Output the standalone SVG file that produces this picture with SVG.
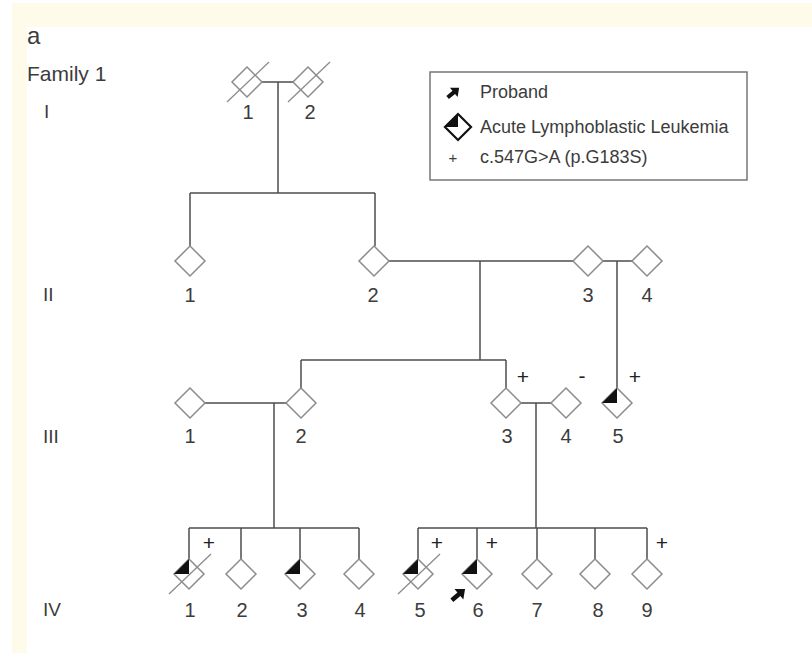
<svg xmlns="http://www.w3.org/2000/svg" xmlns:xlink="http://www.w3.org/1999/xlink" width="812" height="653" viewBox="0 0 812 653">
<style>
.dia{fill:#fff;stroke:#8c8c8c;stroke-width:1.5}
.aff{fill:#111;stroke:none}
.ln{stroke:#4d4d4d;stroke-width:1.5;fill:none}
.sl{stroke:#8c8c8c;stroke-width:1.3}
.t{font-family:"Liberation Sans",Arial,sans-serif;fill:#3c3c3c}
.lbl{font-size:20px;text-anchor:middle}
.gen{font-size:19px}
.pm{font-size:21px;text-anchor:middle;fill:#222}
.lg{font-size:18px}
</style>
<defs>
<path id="dm" class="dia" d="M0,-15 L15,0 L0,15 L-15,0 Z"/>
<path id="q" class="aff" d="M-15,0 L0,-15 L0,0 Z"/>
<line id="slash" class="sl" x1="-20" y1="20" x2="22" y2="-20"/>
<path id="arr" fill="#111" d="M-7,-2 L1,-2 L1,-6 L8,0 L1,6 L1,2 L-7,2 Z"/>
</defs>
<rect x="0" y="0" width="812" height="653" fill="#fff"/>
<rect x="12" y="3" width="800" height="24" fill="#fffbea"/>
<rect x="12" y="3" width="15" height="650" fill="#fffbea"/>

<g id="titles" class="t">
<text x="27" y="44" font-size="24">a</text>
<text x="27" y="81" font-size="21">Family 1</text>
<text class="gen" x="44" y="118">I</text>
<text class="gen" x="43" y="301">II</text>
<text class="gen" x="43" y="443">III</text>
<text class="gen" x="43" y="616">IV</text>
</g>

<g id="legend">
<rect x="430" y="72" width="317" height="108" fill="#fff" stroke="#777" stroke-width="1.5"/>
<use xlink:href="#arr" transform="translate(453,93) rotate(-40)"/>
<text class="t lg" x="480" y="98">Proband</text>
<g transform="translate(458,127) scale(0.87)">
<path d="M0,-15 L15,0 L0,15 L-15,0 Z" fill="#fff" stroke="#111" stroke-width="2.5"/>
<path d="M-15,0 L0,-15 L0,0 Z" fill="#111"/>
</g>
<text class="t lg" x="480" y="133">Acute Lymphoblastic Leukemia</text>
<text class="t" x="453" y="163" font-size="15" text-anchor="middle">+</text>
<text class="t lg" x="480" y="163">c.547G&gt;A (p.G183S)</text>
</g>

<g id="connectors" class="ln">
<path d="M262,82 H293 M278,82 V193 M190,193 H375 M190,193 V246 M375,193 V246"/>
<path d="M389,261 H573 M480,261 V360 M603,261 H632 M617,261 V388"/>
<path d="M301,360 H506 M301,360 V388 M506,360 V388"/>
<path d="M205,403 H286 M274,403 V528 M189,528 H359 M189,528 V559 M241,528 V559 M300,528 V559 M359,528 V559"/>
<path d="M521,403 H551 M536,403 V528 M418,528 H647 M418,528 V559 M477,528 V559 M537,528 V559 M595,528 V559 M647,528 V559"/>
</g>

<g id="I-1"><use xlink:href="#dm" x="247" y="82"/><use xlink:href="#slash" x="247" y="82"/><text class="t lbl" x="248" y="119">1</text></g>
<g id="I-2"><use xlink:href="#dm" x="308" y="82"/><use xlink:href="#slash" x="308" y="82"/><text class="t lbl" x="310" y="119">2</text></g>

<g id="II-1"><use xlink:href="#dm" x="190" y="261"/><text class="t lbl" x="190" y="302">1</text></g>
<g id="II-2"><use xlink:href="#dm" x="374" y="261"/><text class="t lbl" x="373" y="302">2</text></g>
<g id="II-3"><use xlink:href="#dm" x="588" y="261"/><text class="t lbl" x="588" y="302">3</text></g>
<g id="II-4"><use xlink:href="#dm" x="647" y="261"/><text class="t lbl" x="647" y="302">4</text></g>

<g id="III-1"><use xlink:href="#dm" x="190" y="403"/><text class="t lbl" x="190" y="443">1</text></g>
<g id="III-2"><use xlink:href="#dm" x="301" y="403"/><text class="t lbl" x="301" y="443">2</text></g>
<g id="III-3"><use xlink:href="#dm" x="506" y="403"/><text class="t pm" x="523" y="384">+</text><text class="t lbl" x="507" y="443">3</text></g>
<g id="III-4"><use xlink:href="#dm" x="566" y="403"/><text class="t pm" x="582" y="383">-</text><text class="t lbl" x="566" y="443">4</text></g>
<g id="III-5"><use xlink:href="#dm" x="617" y="403"/><use xlink:href="#q" x="617" y="403"/><text class="t pm" x="635" y="384">+</text><text class="t lbl" x="618" y="443">5</text></g>

<g id="IV-1"><use xlink:href="#dm" x="189" y="574"/><use xlink:href="#q" x="189" y="574"/><use xlink:href="#slash" x="189" y="574"/><text class="t pm" x="209" y="550">+</text><text class="t lbl" x="190" y="617">1</text></g>
<g id="IV-2"><use xlink:href="#dm" x="241" y="574"/><text class="t lbl" x="242" y="617">2</text></g>
<g id="IV-3"><use xlink:href="#dm" x="300" y="574"/><use xlink:href="#q" x="300" y="574"/><text class="t lbl" x="302" y="617">3</text></g>
<g id="IV-4"><use xlink:href="#dm" x="359" y="574"/><text class="t lbl" x="360" y="617">4</text></g>
<g id="IV-5"><use xlink:href="#dm" x="418" y="574"/><use xlink:href="#q" x="418" y="574"/><use xlink:href="#slash" x="418" y="574"/><text class="t pm" x="437" y="550">+</text><text class="t lbl" x="420" y="617">5</text></g>
<g id="IV-6"><use xlink:href="#dm" x="477" y="574"/><use xlink:href="#q" x="477" y="574"/><text class="t pm" x="492" y="550">+</text><use xlink:href="#arr" transform="translate(458,595) rotate(-40) scale(1.15)"/><text class="t lbl" x="478" y="617">6</text></g>
<g id="IV-7"><use xlink:href="#dm" x="537" y="574"/><text class="t lbl" x="537" y="617">7</text></g>
<g id="IV-8"><use xlink:href="#dm" x="595" y="574"/><text class="t lbl" x="598" y="617">8</text></g>
<g id="IV-9"><use xlink:href="#dm" x="647" y="574"/><text class="t pm" x="662" y="550">+</text><text class="t lbl" x="647" y="617">9</text></g>
</svg>
